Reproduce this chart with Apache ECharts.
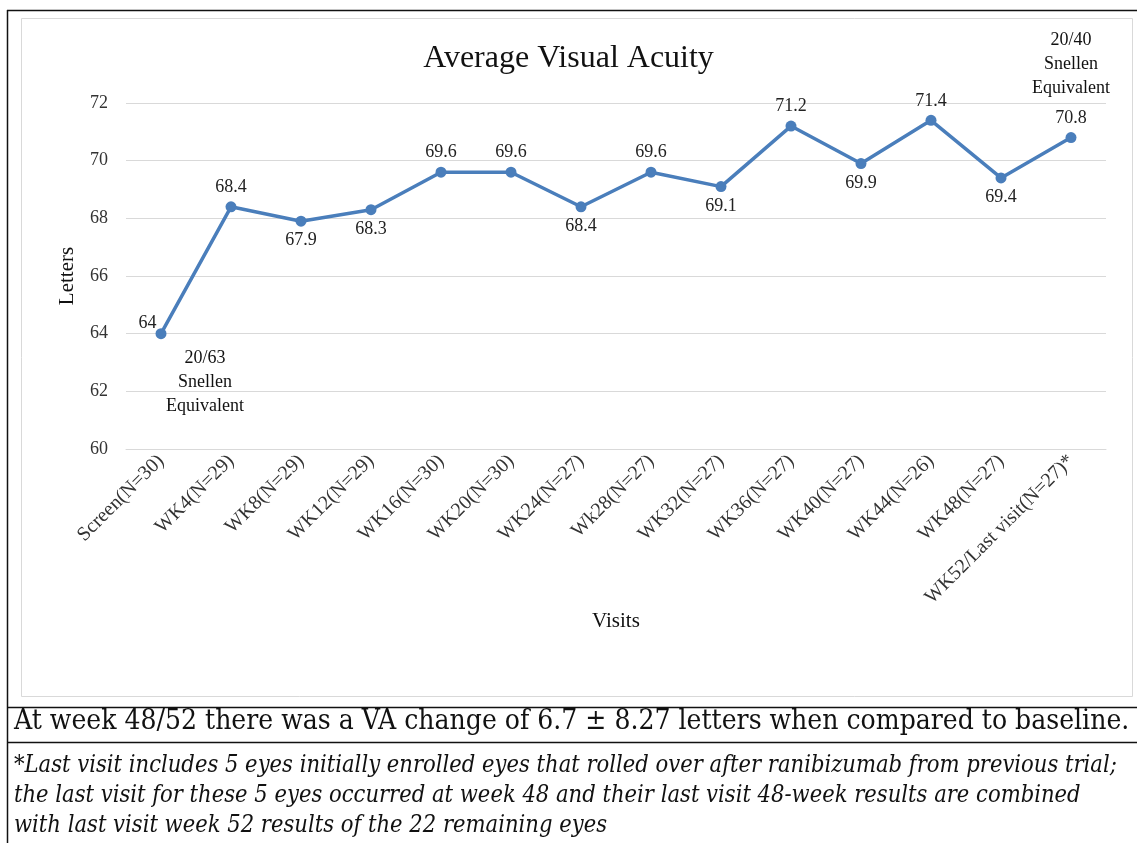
<!DOCTYPE html>
<html><head><meta charset="utf-8">
<script src="https://cdn.jsdelivr.net/npm/echarts@6/dist/echarts.min.js"></script>
<style>html,body{margin:0;padding:0;background:#fff}#c{width:1137px;height:843px}</style>
</head><body><div id="c"></div>
<script>
const categories = ['Screen(N=30)','WK4(N=29)','WK8(N=29)','WK12(N=29)','WK16(N=30)','WK20(N=30)','WK24(N=27)','Wk28(N=27)','WK32(N=27)','WK36(N=27)','WK40(N=27)','WK44(N=26)','WK48(N=27)','WK52/Last visit(N=27)*'];
const letters = [64, 68.4, 67.9, 68.3, 69.6, 69.6, 68.4, 69.6, 69.1, 71.2, 69.9, 71.4, 69.4, 70.8];
const yTicks = {min: 60, max: 72, interval: 2};
const title = 'Average Visual Acuity';
const note1 = 'At week 48/52 there was a VA change of 6.7 \u00b1 8.27 letters when compared to baseline.';
const footnote = ['*Last visit includes 5 eyes initially enrolled eyes that rolled over after ranibizumab from previous trial;',
  'the last visit for these 5 eyes occurred at week 48 and their last visit 48-week results are combined',
  'with last visit week 52 results of the 22 remaining eyes'];
const snellenStart = '20/63\nSnellen\nEquivalent';
const snellenEnd = '20/40\nSnellen\nEquivalent';

const SERIF = '"Liberation Serif", "Times New Roman", serif';
const NOTE = '"DejaVu Serif Condensed", "Liberation Serif", serif';
const below = new Set([2, 3, 6, 8, 10, 12]);

const seriesData = letters.map((v, i) => {
  let pos = below.has(i) ? 'bottom' : 'top';
  const d = {value: v, label: {position: pos}};
  if (i === 0) d.label = {position: 'left', offset: [6, -10]};
  return d;
});

const chart = echarts.init(document.getElementById('c'), null, {renderer: 'canvas'});
chart.setOption({
  backgroundColor: '#fff',
  animation: false,
  title: {
    text: title, left: 'center', top: 38,
    textStyle: {fontFamily: SERIF, fontSize: 32, fontWeight: 'normal', color: '#111'}
  },
  grid: {left: 126, right: 31, top: 103, bottom: 394},
  xAxis: {
    type: 'category', data: categories, boundaryGap: true,
    name: 'Visits', nameLocation: 'middle', nameGap: 160,
    nameTextStyle: {fontFamily: SERIF, fontSize: 21, color: '#111'},
    axisLine: {lineStyle: {color: '#d9d9d9'}},
    axisTick: {show: false},
    axisLabel: {rotate: 45, interval: 0, margin: 9, fontFamily: SERIF, fontSize: 20, color: '#333'}
  },
  yAxis: {
    type: 'value', min: yTicks.min, max: yTicks.max, interval: yTicks.interval,
    name: 'Letters', nameLocation: 'middle', nameGap: 48, nameRotate: 90,
    nameTextStyle: {fontFamily: SERIF, fontSize: 21, color: '#111'},
    axisLine: {show: false}, axisTick: {show: false},
    axisLabel: {margin: 18, fontFamily: SERIF, fontSize: 18, color: '#333'},
    splitLine: {lineStyle: {color: '#d9d9d9', width: 1}}
  },
  series: [{
    type: 'line', data: seriesData,
    symbol: 'circle', symbolSize: 11,
    lineStyle: {color: '#4a7ebb', width: 3.5},
    itemStyle: {color: '#4a7ebb'},
    label: {show: true, fontFamily: SERIF, fontSize: 18, color: '#222', distance: 5},
    markPoint: {
      symbol: 'circle', symbolSize: 0,
      label: {show: true, fontFamily: SERIF, fontSize: 18, color: '#111', lineHeight: 24, align: 'center'},
      data: [
        {coord: [0, letters[0]], label: {formatter: snellenStart, offset: [44, 49]}},
        {coord: [letters.length - 1, letters[letters.length - 1]], label: {formatter: snellenEnd, offset: [0, -73]}}
      ]
    }
  }],
  graphic: [
    {type: 'rect', shape: {x: 21.5, y: 18.5, width: 1111, height: 678}, style: {fill: null, stroke: '#d9d9d9', lineWidth: 1}, z: -1},
    {type: 'line', shape: {x1: 7.5, y1: 10, x2: 7.5, y2: 843}, style: {stroke: '#111', lineWidth: 1.5}},
    {type: 'line', shape: {x1: 7, y1: 10.5, x2: 1137, y2: 10.5}, style: {stroke: '#111', lineWidth: 1.5}},
    {type: 'line', shape: {x1: 7, y1: 707.5, x2: 1137, y2: 707.5}, style: {stroke: '#111', lineWidth: 1.5}},
    {type: 'line', shape: {x1: 7, y1: 742.5, x2: 1137, y2: 742.5}, style: {stroke: '#111', lineWidth: 1.5}},
    {type: 'text', left: 14, top: 708, style: {text: note1, font: '28px ' + NOTE, fill: '#111'}},
    {type: 'text', left: 14, top: 751, style: {text: footnote.join('\n'), font: 'italic 23.5px ' + NOTE, fill: '#111', lineHeight: 30}}
  ]
});
</script></body></html>
